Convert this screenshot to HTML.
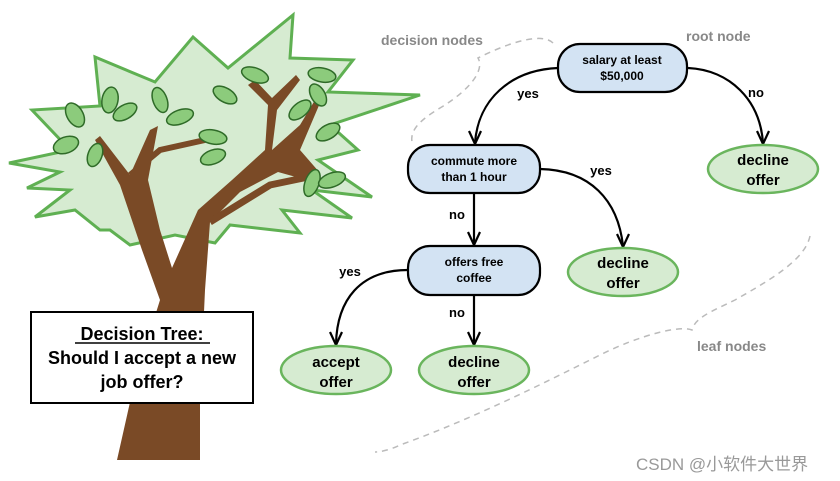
<!DOCTYPE html>
<html><head><meta charset="utf-8"><style>
html,body{margin:0;padding:0;background:#fff;}
svg{display:block}
text{font-family:"Liberation Sans",Arial,sans-serif;font-weight:bold;}
</style></head><body>
<svg width="840" height="481" viewBox="0 0 840 481" xmlns="http://www.w3.org/2000/svg">
<!-- foliage -->
<polygon points="9,163 70,150 32,110 100,106 95,57 155,82 193,37 228,68 293,15 290,58 353,60 328,92 420,95 330,125 358,150 318,160 372,197 312,190 352,218 282,210 300,233 230,225 215,243 175,235 130,245 110,230 100,230 75,210 35,217 70,190 27,188 60,172" fill="#d6ebd1" stroke="#5fb052" stroke-width="3" stroke-linejoin="miter"/>
<!-- trunk -->
<path d="M117,460 L135,380 L160,300 L142,250 L120,185 L95,140 L100,136 L130,175 L150,130 L158,126 L148,180 L160,230 L172,268 L198,210 L232,180 L265,150 L268,105 L248,85 L255,80 L272,98 L296,75 L300,80 L277,110 L272,150 L300,125 L315,100 L320,103 L300,150 L320,173 L296,177 L278,172 L240,192 L210,222 L205,290 L200,400 L200,460 Z" fill="#7a4a26"/>
<path d="M130,175 L160,150 L205,140" stroke="#7a4a26" stroke-width="6" fill="none"/>
<path d="M210,222 L270,185 L318,175" stroke="#7a4a26" stroke-width="7" fill="none"/>
<!-- leaves -->
<g fill="#8ccb7c" stroke="#2f6b28" stroke-width="1.5">
<ellipse cx="75" cy="115" rx="8" ry="13" transform="rotate(-30 75 115)"/>
<ellipse cx="66" cy="145" rx="8" ry="13" transform="rotate(70 66 145)"/>
<ellipse cx="95" cy="155" rx="7" ry="12" transform="rotate(20 95 155)"/>
<ellipse cx="110" cy="100" rx="8" ry="13" transform="rotate(10 110 100)"/>
<ellipse cx="125" cy="112" rx="7" ry="13" transform="rotate(60 125 112)"/>
<ellipse cx="160" cy="100" rx="7" ry="13" transform="rotate(-20 160 100)"/>
<ellipse cx="180" cy="117" rx="7" ry="14" transform="rotate(70 180 117)"/>
<ellipse cx="213" cy="137" rx="7" ry="14" transform="rotate(-80 213 137)"/>
<ellipse cx="213" cy="157" rx="7" ry="13" transform="rotate(70 213 157)"/>
<ellipse cx="225" cy="95" rx="7" ry="13" transform="rotate(-60 225 95)"/>
<ellipse cx="255" cy="75" rx="7" ry="14" transform="rotate(-70 255 75)"/>
<ellipse cx="322" cy="75" rx="7" ry="14" transform="rotate(-80 322 75)"/>
<ellipse cx="318" cy="95" rx="7" ry="12" transform="rotate(-30 318 95)"/>
<ellipse cx="300" cy="110" rx="7" ry="13" transform="rotate(50 300 110)"/>
<ellipse cx="328" cy="132" rx="7" ry="13" transform="rotate(60 328 132)"/>
<ellipse cx="312" cy="183" rx="7" ry="14" transform="rotate(20 312 183)"/>
<ellipse cx="332" cy="180" rx="7" ry="14" transform="rotate(70 332 180)"/>
</g>
<!-- title box -->
<rect x="31" y="312" width="222" height="91" fill="#fff" stroke="#000" stroke-width="2"/>
<text x="142" y="340" font-size="18" text-anchor="middle">Decision Tree:</text>
<line x1="75" y1="343" x2="210" y2="343" stroke="#000" stroke-width="1.5"/>
<text x="142" y="364" font-size="18" text-anchor="middle">Should I accept a new</text>
<text x="142" y="388" font-size="18" text-anchor="middle">job offer?</text>
<!-- dashed brackets -->
<g fill="none" stroke="#bbb" stroke-width="1.5" stroke-dasharray="6,5">
<path d="M553,43 C545,35 525,38 500,48 C490,52 482,56 478,58 C485,70 470,90 440,108 C420,120 410,130 412,142"/>
<path d="M810,236 C805,260 770,280 735,300 C710,312 695,318 692,330 C680,325 640,335 600,355 C540,385 470,420 400,445 C390,450 380,452 375,452"/>
</g>
<text x="381" y="45" font-size="14" fill="#888">decision nodes</text>
<text x="686" y="41" font-size="14" fill="#888">root node</text>
<text x="697" y="351" font-size="14" fill="#888">leaf nodes</text>
<!-- connectors -->
<g fill="none" stroke="#000" stroke-width="2.2">
<path d="M558,68 C510,70 478,100 475,143"/>
<path d="M688,68 C730,70 760,100 763,143"/>
<path d="M540,169 C590,170 618,200 623,246"/>
<path d="M474,193 L474,244"/>
<path d="M408,270 C360,270 337,300 336,344"/>
<path d="M474,295 L474,344"/>
</g>
<g fill="none" stroke="#000" stroke-width="2.2" stroke-linejoin="miter">
<path d="M469,131 L475,144 L481,131"/>
<path d="M757,131 L763,144 L769,131"/>
<path d="M617,234 L623,247 L629,234"/>
<path d="M468,232 L474,245 L480,232"/>
<path d="M330,332 L336,345 L342,332"/>
<path d="M468,332 L474,345 L480,332"/>
</g>
<text x="528" y="98" font-size="13" text-anchor="middle">yes</text>
<text x="756" y="97" font-size="13" text-anchor="middle">no</text>
<text x="601" y="175" font-size="13" text-anchor="middle">yes</text>
<text x="457" y="219" font-size="13" text-anchor="middle">no</text>
<text x="350" y="276" font-size="13" text-anchor="middle">yes</text>
<text x="457" y="317" font-size="13" text-anchor="middle">no</text>
<!-- decision nodes -->
<g fill="#d3e3f3" stroke="#000" stroke-width="2.2">
<rect x="558" y="44" width="129" height="48" rx="22"/>
<rect x="408" y="145" width="132" height="48" rx="22"/>
<rect x="408" y="246" width="132" height="49" rx="22"/>
</g>
<g font-size="12" text-anchor="middle">
<text x="622" y="64">salary at least</text>
<text x="622" y="80">$50,000</text>
<text x="474" y="165">commute more</text>
<text x="474" y="181">than 1 hour</text>
<text x="474" y="266">offers free</text>
<text x="474" y="282">coffee</text>
</g>
<!-- leaves -->
<g fill="#d6ebd1" stroke="#6ab55d" stroke-width="2.5">
<ellipse cx="763" cy="169" rx="55" ry="24"/>
<ellipse cx="623" cy="272" rx="55" ry="24"/>
<ellipse cx="336" cy="370" rx="55" ry="24"/>
<ellipse cx="474" cy="370" rx="55" ry="24"/>
</g>
<g font-size="15" text-anchor="middle">
<text x="763" y="165">decline</text><text x="763" y="185">offer</text>
<text x="623" y="268">decline</text><text x="623" y="288">offer</text>
<text x="336" y="367">accept</text><text x="336" y="387">offer</text>
<text x="474" y="367">decline</text><text x="474" y="387">offer</text>
</g>
<text x="636" y="470" font-size="17" fill="#999" style="font-weight:normal;font-family:'Liberation Sans','Noto Sans CJK SC',sans-serif">CSDN @小软件大世界</text>
</svg>
</body></html>
